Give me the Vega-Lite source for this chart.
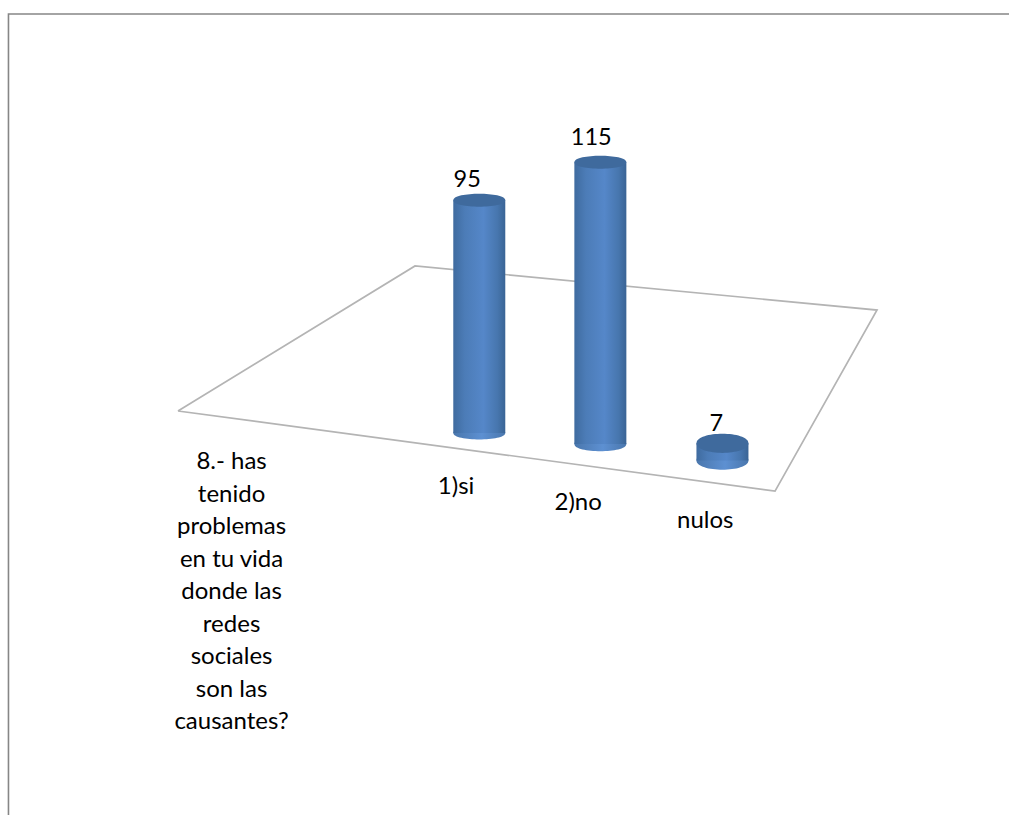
{
  "$schema": "https://vega.github.io/schema/vega-lite/v6.json",
  "autosize": {"type": "none"},
  "width": 999,
  "height": 805,
  "background": "#ffffff",
  "view": {"stroke": null},
  "resolve": {"scale": {"shape": "independent"}},
  "datasets": {
    "answers": [
      {"answer": "1)si", "count": 95, "floor": 155.9, "pos": 47.5, "top": 250.9, "countPos": 46.3, "countY": 259.2, "labelPos": 45.2, "labelY": 133.9},
      {"answer": "2)no", "count": 115, "floor": 151.4, "pos": 59.5, "top": 266.4, "countPos": 58.6, "countY": 276.3, "labelPos": 57.3, "labelY": 127.3},
      {"answer": "nulos", "count": 7, "floor": 144.7, "pos": 71.6, "top": 151.7, "countPos": 71.0, "countY": 159.6, "labelPos": 69.9, "labelY": 120.0}
    ],
    "floorEdge": [
      {"i": 0, "x": 17.64, "y": 164.9},
      {"i": 1, "x": 41.13, "y": 224.1},
      {"i": 2, "x": 86.92, "y": 206.1},
      {"i": 3, "x": 76.81, "y": 132.2},
      {"i": 4, "x": 17.64, "y": 164.9}
    ],
    "frame": [
      {"i": 0, "x": 0.84, "y": 0},
      {"i": 1, "x": 0.84, "y": 326.9},
      {"i": 2, "x": 100, "y": 326.9}
    ],
    "question": [
      {"text": "8.- has\ntenido\nproblemas\nen tu vida\ndonde las\nredes\nsociales\nson las\ncausantes?", "x": 22.95, "y": 144}
    ]
  },
  "layer": [
    {
      "data": {"name": "frame"},
      "mark": {"type": "line", "color": "#868686", "strokeWidth": 1.6},
      "encoding": {
        "x": {"field": "x", "type": "quantitative", "axis": null, "scale": {"domain": [0.4955, 99.504], "nice": false, "zero": false, "padding": 0}},
        "y": {"field": "y", "type": "quantitative", "axis": null, "scale": {"domain": [2.04, 330.6], "nice": false, "zero": false, "padding": 0}},
        "order": {"field": "i"}
      }
    },
    {
      "data": {"name": "floorEdge"},
      "mark": {"type": "line", "color": "#b4b4b4", "strokeWidth": 1.7},
      "encoding": {
        "x": {"field": "x", "type": "quantitative", "axis": null},
        "y": {"field": "y", "type": "quantitative", "axis": null},
        "order": {"field": "i"}
      }
    },
    {
      "data": {"name": "answers"},
      "mark": {
        "type": "point", "filled": true, "opacity": 1, "size": 2704, "strokeWidth": 0,
        "fill": {"gradient": "linear", "x1": 0, "y1": 0, "x2": 1, "y2": 0, "stops": [
          {"offset": 0, "color": "#4a77ad"},
          {"offset": 0.55, "color": "#5d90d2"},
          {"offset": 1, "color": "#4a77ad"}
        ]}
      },
      "encoding": {
        "x": {"field": "pos", "type": "quantitative", "axis": null},
        "y": {"field": "floor", "type": "quantitative", "axis": null},
        "shape": {
          "field": "answer", "type": "nominal", "legend": null,
          "scale": {
            "domain": ["1)si", "2)no", "nulos"],
            "range": [
              "M-1,0C-1,-0.33 1,-0.33 1,0C1,0.33 -1,0.33 -1,0Z",
              "M-1,0C-1,-0.37 1,-0.37 1,0C1,0.37 -1,0.37 -1,0Z",
              "M-1,0C-1,-0.47 1,-0.47 1,0C1,0.47 -1,0.47 -1,0Z"
            ]
          }
        }
      }
    },
    {
      "data": {"name": "answers"},
      "mark": {
        "type": "bar", "size": 52, "orient": "vertical",
        "fill": {"gradient": "linear", "x1": 0, "y1": 0, "x2": 1, "y2": 0, "stops": [
          {"offset": 0, "color": "#3f6b9f"},
          {"offset": 0.22, "color": "#4c7cb7"},
          {"offset": 0.58, "color": "#5587c9"},
          {"offset": 0.85, "color": "#4776ae"},
          {"offset": 1, "color": "#3a6495"}
        ]}
      },
      "encoding": {
        "x": {"field": "pos", "type": "quantitative", "axis": null},
        "y": {"field": "floor", "type": "quantitative", "axis": null},
        "y2": {"field": "top"}
      }
    },
    {
      "data": {"name": "answers"},
      "mark": {"type": "point", "filled": true, "opacity": 1, "size": 2704, "strokeWidth": 0, "fill": "#3f6a9d"},
      "encoding": {
        "x": {"field": "pos", "type": "quantitative", "axis": null},
        "y": {"field": "top", "type": "quantitative", "axis": null},
        "shape": {
          "field": "answer", "type": "nominal", "legend": null,
          "scale": {
            "domain": ["1)si", "2)no", "nulos"],
            "range": [
              "M-1,0C-1,-0.33 1,-0.33 1,0C1,0.33 -1,0.33 -1,0Z",
              "M-1,0C-1,-0.33 1,-0.33 1,0C1,0.33 -1,0.33 -1,0Z",
              "M-1,0C-1,-0.49 1,-0.49 1,0C1,0.49 -1,0.49 -1,0Z"
            ]
          }
        }
      }
    },
    {
      "data": {"name": "answers"},
      "mark": {"type": "text", "font": "Lato", "fontSize": 23.5, "color": "#000000", "align": "center", "baseline": "middle"},
      "encoding": {
        "x": {"field": "countPos", "type": "quantitative", "axis": null},
        "y": {"field": "countY", "type": "quantitative", "axis": null},
        "text": {"field": "count", "type": "quantitative"}
      }
    },
    {
      "data": {"name": "answers"},
      "mark": {"type": "text", "font": "Lato", "fontSize": 24, "color": "#000000", "align": "center", "baseline": "middle"},
      "encoding": {
        "x": {"field": "labelPos", "type": "quantitative", "axis": null},
        "y": {"field": "labelY", "type": "quantitative", "axis": null},
        "text": {"field": "answer", "type": "nominal"}
      }
    },
    {
      "data": {"name": "question"},
      "mark": {"type": "text", "font": "Lato", "fontSize": 24, "color": "#000000", "align": "center", "baseline": "middle", "lineBreak": "\n", "lineHeight": 32.5},
      "encoding": {
        "x": {"field": "x", "type": "quantitative", "axis": null},
        "y": {"field": "y", "type": "quantitative", "axis": null},
        "text": {"field": "text", "type": "nominal"}
      }
    }
  ]
}
